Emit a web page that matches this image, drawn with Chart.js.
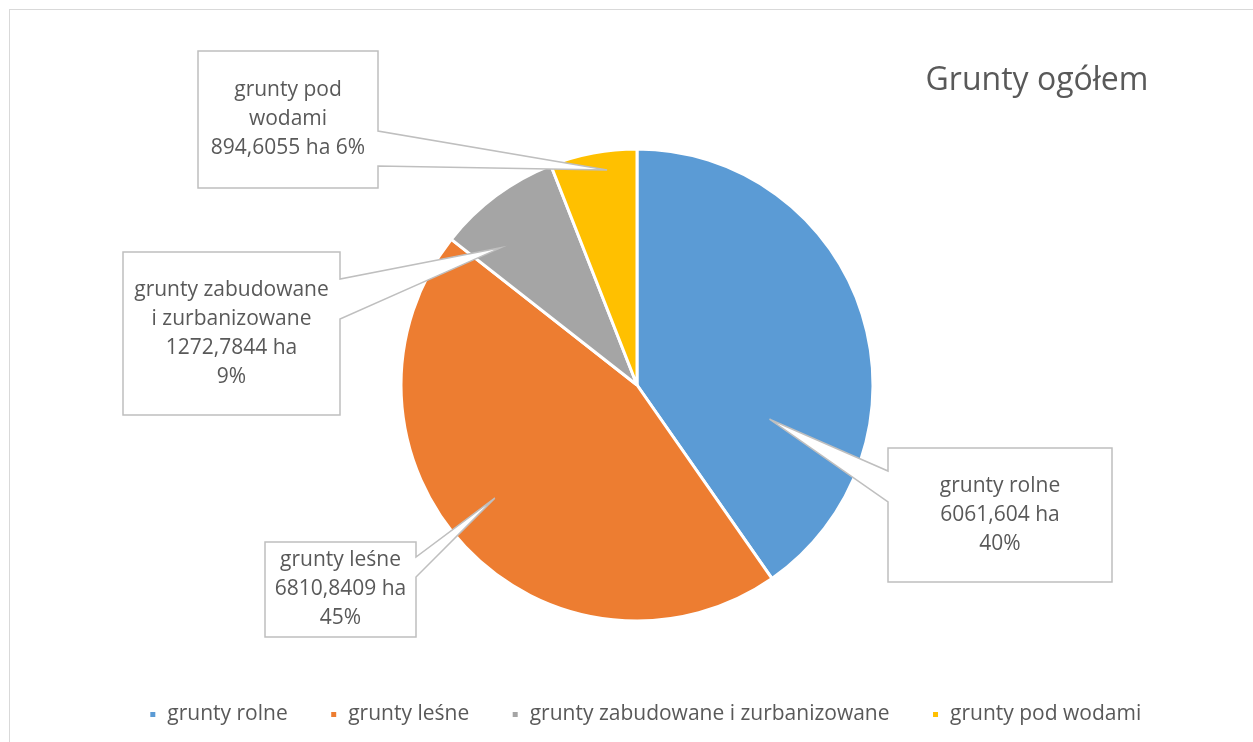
<!DOCTYPE html>
<html>
<head>
<meta charset="utf-8">
<script src="https://cdn.jsdelivr.net/npm/chart.js@4"></script>
<style>
  html, body { margin: 0; padding: 0; background: #fff; overflow: hidden; }
  #wrap { position: relative; width: 1253px; height: 742px; }
  #frame { position: absolute; left: 9px; top: 9px; width: 1260px; height: 760px; border: 1px solid #D9D9D9; }
  canvas { position: absolute; left: 0; top: 0; }
</style>
</head>
<body>
<div id="wrap">
  <div id="frame"></div>
  <canvas id="grunty" width="1253" height="742"></canvas>
</div>
<script>
var title = "Grunty ogółem";
var categories = ["grunty rolne", "grunty leśne", "grunty zabudowane i zurbanizowane", "grunty pod wodami"];
var areas = [6061.604, 6810.8409, 1272.7844, 894.6055];
var colors = ["#5B9BD5", "#ED7D31", "#A5A5A5", "#FFC000"];
// names as they wrap inside the callouts
var calloutNames = [["grunty rolne"], ["grunty leśne"], ["grunty zabudowane", "i zurbanizowane"], ["grunty pod", "wodami"]];

// percentages rounded so they add up to 100 (like Excel does)
function percents(vals) {
  var total = vals.reduce(function (a, b) { return a + b; }, 0);
  var raw = vals.map(function (v) { return v / total * 100; });
  var out = raw.map(Math.floor);
  var left = 100 - out.reduce(function (a, b) { return a + b; }, 0);
  var order = raw.map(function (r, i) { return i; }).sort(function (a, b) {
    return (raw[b] - out[b]) - (raw[a] - out[a]);
  });
  for (var k = 0; k < left; k++) out[order[k]]++;
  return out;
}
var pct = percents(areas);

// callout boxes: x, y, w, h, side the pointer leaves from, pointer base (y range),
// tip = [fraction of slice angle, fraction of radius]
var callouts = [
  { box: [888, 448, 224, 134], side: "left",  base: [471, 502], tip: [0.72, 0.58] },
  { box: [265, 542, 151, 95],  side: "right", base: [557, 577], tip: [0.53, 0.77] },
  { box: [123, 252, 217, 163], side: "right", base: [279, 319], tip: [0.23, 0.82] },
  { box: [198, 51, 180, 137],  side: "right", base: [131, 166], tip: [0.63, 0.92], joinPct: true }
];

var calloutPlugin = {
  id: "callouts",
  afterLayout: function (chart) {
    // legend sits a bit right of the pie centre in the original
    chart.legend.left += 8;
    chart.legend.right += 8;
  },
  afterDatasetsDraw: function (chart) {
    var ctx = chart.ctx;
    var arcs = chart.getDatasetMeta(0).data;
    ctx.save();
    callouts.forEach(function (c, i) {
      var arc = arcs[i];
      var a = arc.startAngle + c.tip[0] * (arc.endAngle - arc.startAngle);
      var r = c.tip[1] * arc.outerRadius;
      var tx = arc.x + r * Math.cos(a), ty = arc.y + r * Math.sin(a);
      var x = c.box[0], y = c.box[1], w = c.box[2], h = c.box[3];
      ctx.beginPath();
      if (c.side === "right") {
        ctx.moveTo(x, y);
        ctx.lineTo(x + w, y);
        ctx.lineTo(x + w, c.base[0]);
        ctx.lineTo(tx, ty);
        ctx.lineTo(x + w, c.base[1]);
        ctx.lineTo(x + w, y + h);
        ctx.lineTo(x, y + h);
      } else {
        ctx.moveTo(x, y);
        ctx.lineTo(x + w, y);
        ctx.lineTo(x + w, y + h);
        ctx.lineTo(x, y + h);
        ctx.lineTo(x, c.base[1]);
        ctx.lineTo(tx, ty);
        ctx.lineTo(x, c.base[0]);
      }
      ctx.closePath();
      ctx.fillStyle = "#fff";
      ctx.fill();
      ctx.lineWidth = 1.5;
      ctx.strokeStyle = "#BFBFBF";
      ctx.lineJoin = "miter";
      ctx.stroke();

      var val = String(areas[i]).replace(".", ",") + " ha";
      var lines = calloutNames[i].slice();
      if (c.joinPct) lines.push(val + " " + pct[i] + "%");
      else lines.push(val, pct[i] + "%");
      var lh = 29;
      var cy = y + h / 2 - (lines.length - 1) * lh / 2;
      ctx.fillStyle = "#595959";
      ctx.font = "21px 'Open Sans'";
      ctx.textAlign = "center";
      ctx.textBaseline = "middle";
      lines.forEach(function (t, k) {
        ctx.fillText(t, x + w / 2, cy + k * lh);
      });
    });

    // chart title, top right
    ctx.font = "32px 'Open Sans'";
    ctx.fillStyle = "#595959";
    ctx.textAlign = "center";
    ctx.textBaseline = "middle";
    ctx.fillText(title, 1037, 81);
    ctx.restore();
  }
};

new Chart(document.getElementById("grunty"), {
  type: "pie",
  data: {
    labels: categories,
    datasets: [{
      data: areas,
      backgroundColor: colors,
      borderColor: "#fff",
      borderWidth: 3,
      radius: 236
    }]
  },
  options: {
    responsive: false,
    animation: false,
    layout: { padding: { top: 108, left: 21, right: 0, bottom: 7 } },
    plugins: {
      tooltip: { enabled: false },
      legend: {
        position: "bottom",
        labels: {
          boxWidth: 8,
          boxHeight: 8,
          padding: 42,
          color: "#595959",
          font: { family: "'Open Sans'", size: 21 }
        }
      }
    }
  },
  plugins: [calloutPlugin]
});
</script>
</body>
</html>
